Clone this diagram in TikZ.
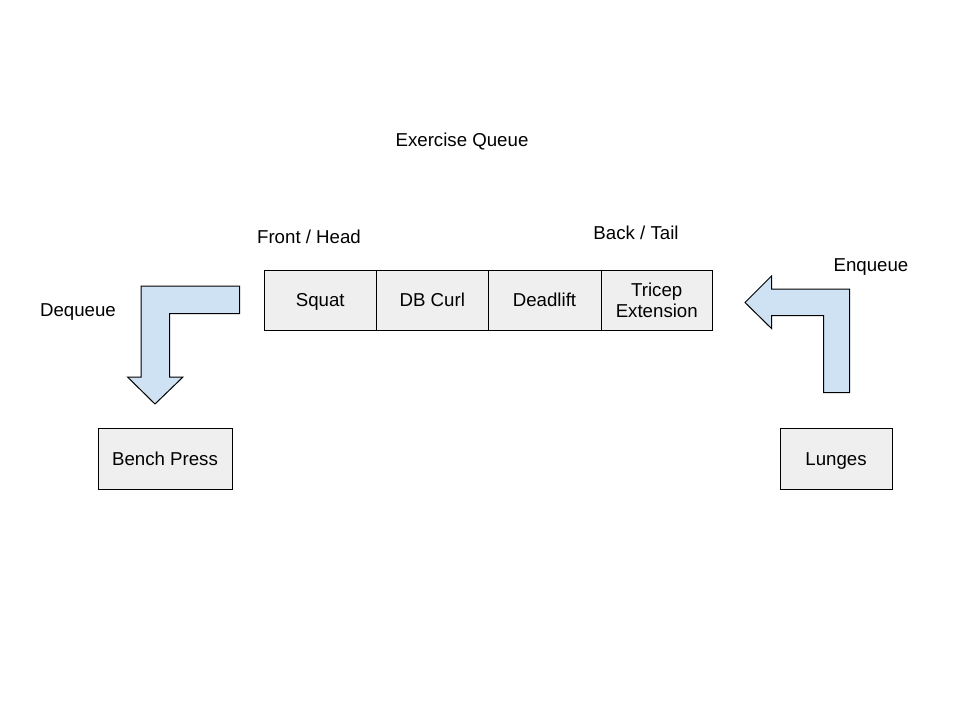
\documentclass[tikz,border=0pt]{standalone}
\usepackage{fontspec}
\setmainfont{Liberation Sans}
\definecolor{boxgray}{HTML}{EFEFEF}
\definecolor{arrowblue}{HTML}{CFE2F3}
\begin{document}
\begin{tikzpicture}[x=1pt,y=-1pt,
  every node/.style={font=\fontsize{18.67}{21.5}\selectfont, inner sep=0pt},
  cell/.style={draw=black, line width=1pt, fill=boxgray, minimum height=59.5pt, align=center, anchor=north west},
  oneline/.style={text height=13.4pt, text depth=0pt},
  blockarrow/.style={draw=black, line width=1pt, fill=arrowblue, line join=miter},
  lbl/.style={anchor=center, oneline}
]
\useasboundingbox (0,0) rectangle (960,720);
\fill[white] (0,0) rectangle (960,720);

% queue cells
\node[cell, oneline, minimum width=112.5pt] (squat) at (263.5,270) {Squat};
\node[cell, oneline, minimum width=111.5pt] (curl) at (376,270) {DB Curl};
\node[cell, oneline, minimum width=113pt] (dead) at (487.5,270) {Deadlift};
\node[cell, minimum width=111.5pt] (tri) at (600.5,270) {Tricep\\Extension};

% side boxes
\node[cell, oneline, minimum width=134pt, minimum height=61pt] (bench) at (97.5,427.5) {Bench Press};
\node[cell, oneline, minimum width=112pt, minimum height=61pt] (lunges) at (779.5,427.5) {Lunges};

% labels
\node[lbl] (title) at (462,139.5) {Exercise Queue};
\node[lbl] (front) at (309,236.5) {Front / Head};
\node[lbl] (back) at (636,232.5) {Back / Tail};
\node[lbl] (enq) at (871,265) {Enqueue};
\node[lbl] (deq) at (78,310) {Dequeue};

% dequeue block arrow
\draw[blockarrow] (239.5,286) -- (141,286) -- (141,377) -- (127.5,377) -- (155,404)
  -- (183,377) -- (169.5,377) -- (169.5,313.5) -- (239.5,313.5) -- cycle;

% enqueue block arrow
\draw[blockarrow] (849.5,392.5) -- (849.5,289) -- (771.5,289) -- (771.5,276) -- (745,302.5)
  -- (771.5,328.5) -- (771.5,315.5) -- (823.5,315.5) -- (823.5,392.5) -- cycle;
\end{tikzpicture}
\end{document}
